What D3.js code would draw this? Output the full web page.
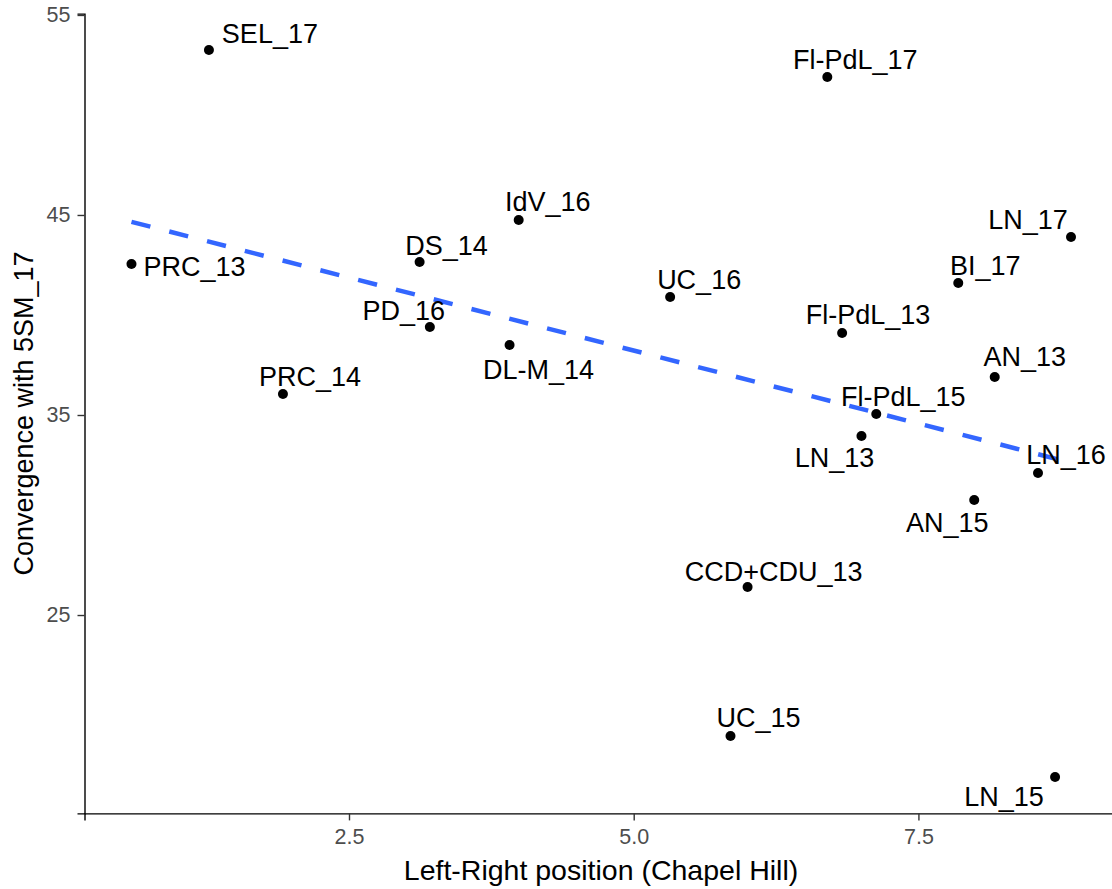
<!DOCTYPE html>
<html>
<head>
<meta charset="utf-8">
<script src="https://cdn.jsdelivr.net/npm/d3@7"></script>
<style>
  html, body { margin: 0; padding: 0; background: #fff; }
  svg { display: block; font-family: "Liberation Sans", Arial, sans-serif; }
</style>
</head>
<body>
<div id="chart"></div>
<script>
// Party-year labels, Chapel Hill left-right score, convergence with 5SM_17
const parties = [
  'SEL_17', 'Fl-PdL_17', 'IdV_16', 'LN_17', 'PRC_13', 'DS_14', 'UC_16',
  'BI_17', 'PD_16', 'Fl-PdL_13', 'DL-M_14', 'AN_13', 'PRC_14', 'Fl-PdL_15',
  'LN_13', 'LN_16', 'AN_15', 'CCD+CDU_13', 'UC_15', 'LN_15'
];
const leftRight = [
  1.27, 6.70, 3.99, 8.84, 0.59, 3.12, 5.32,
  7.85, 3.21, 6.83, 3.91, 8.17, 1.92, 7.13,
  7.00, 8.55, 7.99, 6.00, 5.85, 8.70
];
const convergence = [
  53.25, 51.9, 44.75, 43.9, 42.55, 42.65, 40.9,
  41.6, 39.4, 39.1, 38.5, 36.9, 36.05, 35.05,
  33.95, 32.1, 30.75, 26.4, 18.95, 16.9
];
const xTicks = [2.5, 5.0, 7.5];
const yTicks = [25, 35, 45, 55];

// label placement (pixels from the point to the label centre), repel-style
const labelOffset = [
  [61, -17], [28, -18], [29, -19], [-43, -18], [63, 2], [27, -17], [29, -18],
  [27, -18], [-26, -17], [26, -19], [29, 24], [30, -21], [27, -18], [27, -18],
  [-27, 21], [28, -19], [-27, 22], [26, -16], [28, -19], [-51, 19]
];

const width = 1112;
const height = 889;

const points = parties.map((p, i) => ({ name: p, x: leftRight[i], y: convergence[i], off: labelOffset[i] }));

// ggplot-style 5% expansion
function expand(ext) {
  const pad = (ext[1] - ext[0]) * 0.05;
  return [ext[0] - pad, ext[1] + pad];
}

// the panel runs a little past the right edge of the picture
const x = d3.scaleLinear()
  .domain(expand(d3.extent(leftRight)))
  .range([84.5, 1118]);

const y = d3.scaleLinear()
  .domain(expand(d3.extent(convergence)))
  .range([813.4, 13.6]);

const svg = d3.select('#chart')
  .append('svg')
  .attr('width', width)
  .attr('height', height)
  .attr('viewBox', [0, 0, width, height]);

// Axes
const xAxis = svg.append('g')
  .attr('transform', `translate(0,${y.range()[0]})`)
  .call(d3.axisBottom(x).tickValues(xTicks).tickFormat(d3.format('.1f')).tickSizeOuter(0).tickSize(7).tickPadding(8));

const yAxis = svg.append('g')
  .attr('transform', `translate(${x.range()[0]},0)`)
  .call(d3.axisLeft(y).tickValues(yTicks).tickSizeOuter(0).tickSize(7).tickPadding(7));

[xAxis, yAxis].forEach(ax => {
  ax.select('.domain').attr('stroke', '#000').attr('stroke-width', 1.4);
  ax.selectAll('.tick line').attr('stroke', '#333').attr('stroke-width', 1.4);
  ax.selectAll('.tick text')
    .attr('fill', '#4D4D4D')
    .style('font-size', '21.5px')
    .style('font-family', '"Liberation Sans", Arial, sans-serif');
});

// Axis titles
svg.append('text')
  .attr('x', 601)
  .attr('y', 880)
  .attr('text-anchor', 'middle')
  .style('font-size', '28.5px')
  .attr('fill', '#000')
  .text('Left-Right position (Chapel Hill)');

svg.append('text')
  .attr('transform', `translate(33,${(y.range()[0] + y.range()[1]) / 2}) rotate(-90)`)
  .attr('text-anchor', 'middle')
  .style('font-size', '27px')
  .attr('fill', '#000')
  .text('Convergence with 5SM_17');

// Linear fit (least squares), drawn over the data range
const mx = d3.mean(leftRight);
const my = d3.mean(convergence);
const slope = d3.sum(leftRight, (v, i) => (v - mx) * (convergence[i] - my)) /
  d3.sum(leftRight, v => (v - mx) * (v - mx));
const intercept = my - slope * mx;
const fitX = d3.extent(leftRight);

svg.append('path')
  .datum(fitX.map(v => [v, intercept + slope * v]))
  .attr('fill', 'none')
  .attr('stroke', '#3366FF')
  .attr('stroke-width', 4.5)
  .attr('stroke-dasharray', '19.5,19.5')
  .attr('d', d3.line().x(d => x(d[0])).y(d => y(d[1])));

// Points
svg.append('g')
  .selectAll('circle')
  .data(points)
  .join('circle')
  .attr('cx', d => x(d.x))
  .attr('cy', d => y(d.y))
  .attr('r', 5)
  .attr('fill', '#000');

// Labels
svg.append('g')
  .selectAll('text')
  .data(points)
  .join('text')
  .attr('x', d => x(d.x) + d.off[0])
  .attr('y', d => y(d.y) + d.off[1])
  .attr('dy', '0.36em')
  .attr('text-anchor', 'middle')
  .style('font-size', '27px')
  .attr('fill', '#000')
  .text(d => d.name);
</script>
</body>
</html>
